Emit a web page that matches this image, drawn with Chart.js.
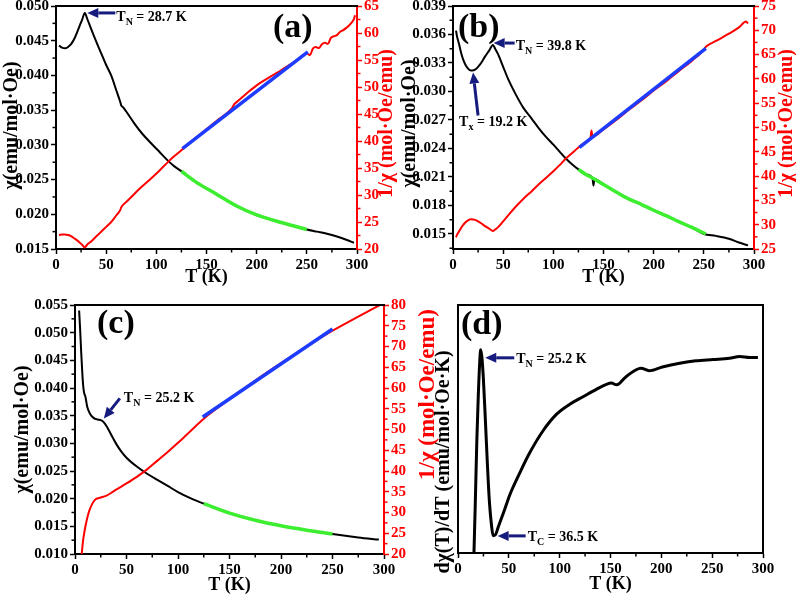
<!DOCTYPE html>
<html>
<head>
<meta charset="utf-8">
<script src="https://cdn.jsdelivr.net/npm/chart.js@4.4.1/dist/chart.umd.min.js"></script>
<style>
  html, body { margin: 0; padding: 0; background: #fff; width: 796px; height: 596px; overflow: hidden; position: relative; }
  canvas { position: absolute; }
</style>
</head>
<body>
<canvas id="panelA" width="402" height="306" style="left:0px;top:-10px"></canvas>
<canvas id="panelB" width="400" height="306" style="left:396px;top:-10px"></canvas>
<canvas id="panelC" width="450" height="310" style="left:0px;top:286px"></canvas>
<canvas id="panelD" width="400" height="310" style="left:396px;top:286px"></canvas>
<script>
// ---- tick labels ----
const tempTicks = [0, 50, 100, 150, 200, 250, 300];
const aChiTicks = [0.015, 0.020, 0.025, 0.030, 0.035, 0.040, 0.045, 0.050];
const aInvTicks = [20, 25, 30, 35, 40, 45, 50, 55, 60, 65];
const bChiTicks = [0.015, 0.018, 0.021, 0.024, 0.027, 0.030, 0.033, 0.036, 0.039];
const bInvTicks = [25, 30, 35, 40, 45, 50, 55, 60, 65, 70, 75];
const cChiTicks = [0.010, 0.015, 0.020, 0.025, 0.030, 0.035, 0.040, 0.045, 0.050, 0.055];
const cInvTicks = [20, 25, 30, 35, 40, 45, 50, 55, 60, 65, 70, 75, 80];
const dDerivTicks = [0, 10];

// ---- panel (a) ----
const aT = [3, 6, 9, 12, 15, 18, 21, 24, 26, 28.7, 31, 35, 40, 45, 50, 55, 60, 64, 65, 67, 70, 78, 86, 95, 103, 111, 118, 125, 140, 160, 180, 200, 220, 240, 250, 260, 270, 280, 290, 297];
const aChi = [0.0443, 0.0440, 0.0439, 0.0441, 0.0445, 0.0452, 0.0462, 0.0473, 0.0480, 0.0490, 0.0482, 0.0467, 0.0449, 0.0432, 0.0415, 0.0400, 0.0379, 0.0362, 0.0357, 0.0354, 0.0348, 0.0331, 0.0316, 0.0302, 0.0290, 0.0278, 0.0269, 0.0262, 0.0246, 0.0229, 0.0212, 0.0199, 0.0190, 0.0182, 0.0178, 0.0175, 0.0172, 0.0168, 0.0163, 0.0159];
const aInvT = [3, 6, 9, 12, 15, 18, 21, 24, 26, 28.7, 31, 35, 40, 45, 50, 55, 60, 64, 65, 66, 70, 78, 86, 95, 103, 111, 118, 125, 140, 160, 175, 178, 180, 190, 200, 210, 220, 230, 240, 250, 253, 256, 259, 262, 265, 268, 271, 274, 277, 280, 283, 286, 289, 292, 295, 297, 298];
const aInv = [22.6, 22.7, 22.7, 22.6, 22.4, 22.0, 21.6, 21.1, 20.8, 20.3, 20.8, 21.4, 22.3, 23.2, 24.1, 25.0, 26.2, 27.2, 27.7, 28.0, 28.7, 30.2, 31.6, 33.1, 34.5, 36.0, 37.2, 38.3, 40.7, 43.7, 46.0, 46.9, 47.2, 48.8, 50.3, 51.5, 52.6, 53.8, 54.9, 56.2, 55.9, 57.1, 57.4, 57.2, 57.9, 58.2, 58.0, 59.1, 59.4, 59.6, 60.2, 60.5, 60.9, 61.4, 62.0, 62.6, 63.3];
const aFitT = [125, 140, 160, 180, 200, 220, 240, 250];
const aFitChi = [0.0262, 0.0246, 0.0229, 0.0212, 0.0199, 0.0190, 0.0182, 0.0178];
const aLinT = [126, 251];
const aLinInv = [38.6, 56.5];

// ---- panel (b) ----
const bT = [3, 4, 6, 8, 10, 12, 15, 18, 19.2, 22, 25, 28, 32, 36, 39.8, 42, 45, 50, 55, 62, 70, 78, 85, 92, 100, 106, 112, 118, 125, 132, 139, 140, 141, 150, 163, 175, 188, 200, 213, 225, 238, 250, 262, 275, 285, 294];
const bChi = [0.0364, 0.0358, 0.0350, 0.0341, 0.0334, 0.0329, 0.0324, 0.0322, 0.0322, 0.0323, 0.0326, 0.0330, 0.0337, 0.0343, 0.0349, 0.0345, 0.0339, 0.0326, 0.0313, 0.0298, 0.0283, 0.0272, 0.0262, 0.0253, 0.0244, 0.0237, 0.0230, 0.0224, 0.0218, 0.0213, 0.0209, 0.0201, 0.0208, 0.0202, 0.0194, 0.0187, 0.0181, 0.0175, 0.0169, 0.0163, 0.0157, 0.0150, 0.0148, 0.0145, 0.0141, 0.0138];
const bInvT = [3, 4, 6, 8, 10, 12, 15, 18, 22, 25, 28, 32, 36, 39.8, 42, 45, 50, 55, 62, 70, 78, 85, 92, 100, 106, 112, 118, 125, 132, 137, 138, 139, 150, 163, 175, 188, 200, 213, 225, 238, 250, 252, 262, 275, 285, 292, 294];
const bInv = [27.4, 27.9, 28.6, 29.3, 29.9, 30.4, 30.9, 31.1, 31.0, 30.7, 30.3, 29.7, 29.2, 28.7, 29.0, 29.5, 30.7, 31.9, 33.6, 35.3, 36.8, 38.2, 39.5, 41.0, 42.2, 43.5, 44.6, 45.9, 47.0, 47.8, 49.4, 48.1, 49.6, 51.6, 53.6, 55.6, 57.6, 59.6, 61.6, 63.7, 66.0, 66.6, 67.8, 69.3, 70.6, 71.8, 71.4];
const bFitT = [125, 132, 139, 150, 163, 175, 188, 200, 213, 225, 238, 252];
const bFitChi = [0.0218, 0.0213, 0.0209, 0.0202, 0.0194, 0.0187, 0.0181, 0.0175, 0.0169, 0.0163, 0.0157, 0.0150];
const bLinT = [126, 252];
const bLinInv = [45.9, 66.3];

// ---- panel (c) ----
const cT = [4, 5, 6, 7, 8, 9, 10, 12, 15, 18, 22, 25, 28, 31, 35, 40, 45, 50, 60, 70, 80, 90, 100, 112, 125, 150, 175, 200, 225, 250, 275, 295];
const cChi = [0.0540, 0.0505, 0.0465, 0.0430, 0.0403, 0.0390, 0.0385, 0.0365, 0.0352, 0.0346, 0.0343, 0.0342, 0.0338, 0.0330, 0.0316, 0.0299, 0.0285, 0.0274, 0.0258, 0.0245, 0.0234, 0.0223, 0.0212, 0.0201, 0.0191, 0.0174, 0.0161, 0.0151, 0.0143, 0.0136, 0.0130, 0.0126];
const cInvT = [6.5, 8, 10, 12, 14, 17, 20, 25, 30, 35, 40, 50, 60, 70, 80, 90, 100, 112, 125, 150, 175, 200, 225, 250, 275, 296];
const cInv = [20.0, 23.5, 26.5, 28.8, 30.5, 32.2, 33.2, 33.6, 34.0, 34.7, 35.5, 37.0, 38.6, 40.4, 42.5, 44.6, 46.8, 49.6, 52.6, 57.3, 61.8, 66.0, 70.0, 73.8, 77.2, 80.0];
const cFitT = [125, 150, 175, 200, 225, 250];
const cFitChi = [0.0191, 0.0174, 0.0161, 0.0151, 0.0143, 0.0136];
const cLinT = [124, 250];
const cLinInv = [53.0, 74.2];

// ---- panel (d) ----
const dT = [15.7, 17, 18.5, 20, 21.5, 22.3, 23.5, 25, 27, 29, 31, 33, 34.5, 36.5, 40, 45, 51, 61, 70, 84, 97, 110, 123, 136, 146, 151, 156, 165, 180, 188, 201, 218, 234, 251, 267, 277, 287, 295];
const dDeriv = [0.0, 2.0, 4.5, 6.4, 7.8, 8.2, 7.9, 7.0, 5.3, 3.5, 2.0, 1.1, 0.7, 0.72, 1.1, 1.65, 2.35, 3.25, 4.0, 4.95, 5.6, 6.0, 6.3, 6.6, 6.8, 6.85, 6.78, 7.1, 7.45, 7.35, 7.5, 7.65, 7.75, 7.8, 7.85, 7.92, 7.88, 7.88];

const RED = '#ff0000';
const GREEN = '#3ded2f';
const BLUE = '#1d3cff';
const NAVY = '#161b7e';
const SERIF = '"Liberation Serif", "Times New Roman", serif';
const TICK_FONT = { family: SERIF, size: 15, weight: 'bold' };
const TITLE_FONT = { family: SERIF, size: 18, weight: 'bold' };

function pts(xs, ys) {
  return xs.map((x, i) => ({ x: x, y: ys[i] }));
}

function line(data, color, width, axis) {
  return {
    data: data, yAxisID: axis, borderColor: color, borderWidth: width,
    pointRadius: 0, fill: false, cubicInterpolationMode: 'monotone'
  };
}

function xAxis(height, titlePad) {
  return {
    type: 'linear', position: 'bottom', min: 0, max: 300,
    afterBuildTicks: s => { s.ticks = tempTicks.map(v => ({ value: v })); },
    afterFit: s => { s.height = height; },
    ticks: { color: '#000', font: TICK_FONT, padding: 2, maxRotation: 0, autoSkip: false },
    grid: { drawOnChartArea: false, tickLength: 5, tickWidth: 1.5, tickColor: '#000' },
    border: { color: '#000', width: 2 },
    title: { display: true, text: 'T (K)', color: '#000', font: TITLE_FONT, padding: { top: 0, bottom: titlePad } }
  };
}

function yAxis(side, tickVals, min, max, width, color, digits, showTicks) {
  return {
    type: 'linear', position: side, min: min, max: max,
    afterBuildTicks: s => { s.ticks = tickVals.map(v => ({ value: v })); },
    afterFit: s => { s.width = width; },
    ticks: { display: showTicks, autoSkip: false, color: color, font: TICK_FONT, padding: 2, callback: v => v.toFixed(digits) },
    grid: { drawOnChartArea: false, drawTicks: showTicks, tickLength: 5, tickWidth: 1.5, tickColor: color },
    border: { color: color, width: 2 },
    title: { display: false }
  };
}

function arrow(ctx, x1, y1, x2, y2) {
  const ang = Math.atan2(y2 - y1, x2 - x1);
  const hl = 11, hw = 5;
  const bx = x2 - hl * Math.cos(ang), by = y2 - hl * Math.sin(ang);
  ctx.strokeStyle = NAVY;
  ctx.fillStyle = NAVY;
  ctx.lineWidth = 3;
  ctx.beginPath();
  ctx.moveTo(x1, y1);
  ctx.lineTo(bx, by);
  ctx.stroke();
  ctx.beginPath();
  ctx.moveTo(x2, y2);
  ctx.lineTo(bx + hw * Math.sin(ang), by - hw * Math.cos(ang));
  ctx.lineTo(bx - hw * Math.sin(ang), by + hw * Math.cos(ang));
  ctx.closePath();
  ctx.fill();
}

function subLabel(ctx, x, y, sub, rest) {
  ctx.fillStyle = '#000';
  ctx.textAlign = 'left';
  ctx.textBaseline = 'alphabetic';
  ctx.font = 'bold 14px ' + SERIF;
  ctx.fillText('T', x, y);
  let w = ctx.measureText('T').width;
  ctx.font = 'bold 10px ' + SERIF;
  ctx.fillText(sub, x + w, y + 4);
  w += ctx.measureText(sub).width;
  ctx.font = 'bold 14px ' + SERIF;
  ctx.fillText(rest, x + w, y);
}

function vTitle(ctx, text, x, y, color, size) {
  ctx.save();
  ctx.translate(x, y);
  ctx.rotate(-Math.PI / 2);
  ctx.fillStyle = color;
  ctx.font = 'bold ' + (size || 20) + 'px ' + SERIF;
  ctx.textAlign = 'center';
  ctx.textBaseline = 'middle';
  ctx.fillText(text, 0, 0);
  ctx.restore();
}

// frame, minor ticks, panel letter, rotated titles and arrows
const decor = {
  id: 'decor',
  afterDraw(chart, args, o) {
    const ctx = chart.ctx, a = chart.chartArea;
    ctx.save();
    ctx.strokeStyle = '#000';
    ctx.lineWidth = 2;
    ctx.beginPath();
    ctx.moveTo(a.left - 1, a.top);
    ctx.lineTo(a.right + 1, a.top);
    if (o.rightFrame) { ctx.moveTo(a.right, a.top); ctx.lineTo(a.right, a.bottom + 1); }
    ctx.stroke();

    for (const id in chart.scales) {
      const s = chart.scales[id];
      if ((o.noMinor || []).includes(id)) continue;
      const v = s.ticks.map(t => t.value);
      const step = v[1] - v[0];
      ctx.strokeStyle = s.options.grid.tickColor;
      ctx.lineWidth = 1.5;
      for (let m = v[0] - step / 2; m <= s.max + 1e-9; m += step) {
        if (m < s.min - 1e-9) continue;
        const p = s.getPixelForValue(m);
        ctx.beginPath();
        if (s.isHorizontal()) { ctx.moveTo(p, a.bottom); ctx.lineTo(p, a.bottom + 3.5); }
        else if (s.position === 'left') { ctx.moveTo(a.left, p); ctx.lineTo(a.left - 3.5, p); }
        else { ctx.moveTo(a.right, p); ctx.lineTo(a.right + 3.5, p); }
        ctx.stroke();
      }
    }

    ctx.fillStyle = '#000';
    ctx.font = 'bold 34px ' + SERIF;
    ctx.textAlign = 'left';
    ctx.textBaseline = 'middle';
    ctx.fillText(o.letter, a.left + o.letterAt[0], a.top + o.letterAt[1]);

    const mid = (a.top + a.bottom) / 2;
    if (o.leftTitle) vTitle(ctx, o.leftTitle, a.left + o.leftAt[0], mid + o.leftAt[1], '#000');
    if (o.rightTitle) vTitle(ctx, o.rightTitle, a.right + o.rightAt[0], mid + o.rightAt[1], RED, o.rightSize);

    (o.marks || []).forEach(m => {
      const tx = chart.scales.x.getPixelForValue(m.at[0]);
      const ty = chart.scales[m.axis].getPixelForValue(m.at[1]);
      arrow(ctx, tx + m.from[0], ty + m.from[1], tx, ty);
      subLabel(ctx, tx + m.text[0], ty + m.text[1], m.sub, m.rest);
    });
    ctx.restore();
  }
};
Chart.register(decor);

function panel(id, datasets, scales, padding, decorOpts) {
  return new Chart(document.getElementById(id), {
    type: 'line',
    data: { datasets: datasets },
    options: {
      responsive: false,
      animation: false,
      devicePixelRatio: 1,
      layout: { padding: padding },
      plugins: { legend: { display: false }, tooltip: { enabled: false }, decor: decorOpts },
      scales: scales
    }
  });
}

const CHI_TITLE = 'χ(emu/mol·Oe)';
const INV_TITLE = '1/χ (mol·Oe/emu)';

// (a)
panel('panelA', [
  line(pts(aFitT, aFitChi), GREEN, 3.5, 'y'),
  line(pts(aLinT, aLinInv), BLUE, 3.5, 'y1'),
  line(pts(aInvT, aInv), RED, 2, 'y1'),
  line(pts(aT, aChi), '#000', 2, 'y')
], {
  x: xAxis(47, 8),
  y: yAxis('left', aChiTicks, 0.015, 0.050, 56, '#000', 3, true),
  y1: yAxis('right', aInvTicks, 20, 65, 45, RED, 0, true)
}, { top: 16 }, {
  letter: '(a)', letterAt: [217, 22],
  leftTitle: CHI_TITLE, leftAt: [-44, -2],
  rightTitle: INV_TITLE, rightAt: [30, -4],
  marks: [{ at: [31.2, 0.0490], axis: 'y', from: [28, 0], text: [29, 8], sub: 'N', rest: ' = 28.7 K' }]
});

// (b)
panel('panelB', [
  line(pts(bFitT, bFitChi), GREEN, 3.5, 'y'),
  line(pts(bLinT, bLinInv), BLUE, 3.5, 'y1'),
  line(pts(bInvT, bInv), RED, 2, 'y1'),
  line(pts(bT, bChi), '#000', 2, 'y')
], {
  x: xAxis(47, 8),
  y: yAxis('left', bChiTicks, 0.01342, 0.039, 57, '#000', 3, true),
  y1: yAxis('right', bInvTicks, 25, 75, 42, RED, 0, true)
}, { top: 16 }, {
  letter: '(b)', letterAt: [5, 22],
  leftTitle: CHI_TITLE, leftAt: [-43, -4],
  rightTitle: INV_TITLE, rightAt: [33, -4],
  marks: [
    { at: [40.5, 0.0351], axis: 'y', from: [21, 0], text: [22, 7], sub: 'N', rest: ' = 39.8 K' },
    { at: [20, 0.0320], axis: 'y', from: [5, 43], text: [-14, 54], sub: 'x', rest: ' = 19.2 K' }
  ]
});

// (c)
panel('panelC', [
  line(pts(cFitT, cFitChi), GREEN, 3.5, 'y'),
  line(pts(cLinT, cLinInv), BLUE, 3.5, 'y1'),
  line(pts(cInvT, cInv), RED, 2, 'y1'),
  line(pts(cT, cChi), '#000', 2, 'y')
], {
  x: xAxis(42, 0),
  y: yAxis('left', cChiTicks, 0.010, 0.055, 75, '#000', 3, true),
  y1: yAxis('right', cInvTicks, 20, 80, 66, RED, 0, true)
}, { top: 19 }, {
  letter: '(c)', letterAt: [22, 19],
  leftTitle: CHI_TITLE, leftAt: [-52, 0],
  rightTitle: INV_TITLE, rightAt: [44, -35], rightSize: 23,
  marks: [{ at: [28, 0.0345], axis: 'y', from: [16, -20], text: [20, -16], sub: 'N', rest: ' = 25.2 K' }]
});

// (d)
panel('panelD', [
  line(pts(dT, dDeriv), '#000', 3, 'y')
], {
  x: xAxis(43, 1),
  y: yAxis('left', dDerivTicks, 0, 10, 62, '#000', 0, false)
}, { top: 19, right: 33 }, {
  letter: '(d)', letterAt: [3, 20],
  leftTitle: 'dχ(T)/dT (emu/mol·Oe·K)', leftAt: [-14, 33],
  rightFrame: true,
  noMinor: ['y'],
  marks: [
    { at: [26.8, 7.87], axis: 'y', from: [29, 0], text: [31, 5], sub: 'N', rest: ' = 25.2 K' },
    { at: [39, 0.69], axis: 'y', from: [28, 0], text: [30, 5], sub: 'C', rest: ' = 36.5 K' }
  ]
});
</script>
</body>
</html>
